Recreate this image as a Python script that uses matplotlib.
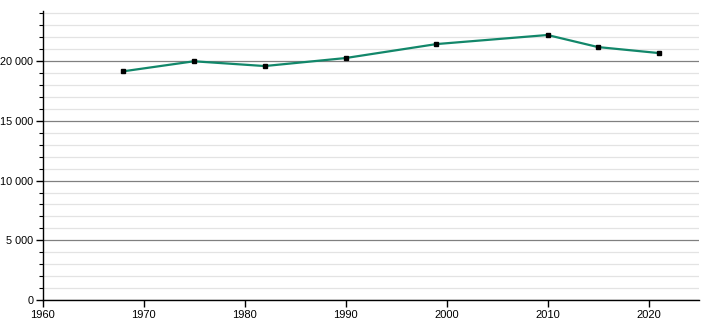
import matplotlib
matplotlib.use("Agg")
import matplotlib.pyplot as plt
from matplotlib.ticker import MultipleLocator, FuncFormatter

plt.rcParams["font.family"] = ["Liberation Sans", "DejaVu Sans"]

# Population by census year
years = [1968, 1975, 1982, 1990, 1999, 2010, 2015, 2021]
population = [19150, 19990, 19590, 20260, 21430, 22190, 21180, 20680]

x_ticks = [1960, 1970, 1980, 1990, 2000, 2010, 2020]

fig = plt.figure(figsize=(7.1, 3.2), dpi=100)
ax = fig.add_axes([42.5 / 710, 20 / 320, (699 - 42.5) / 710, (300 - 11) / 320])

ax.plot(years, population, color="#12876a", linewidth=1.6, zorder=3)
ax.plot(years, population, linestyle="none", marker="s", markersize=3.5,
        color="black", zorder=4)

ax.set_xlim(1960, 2025)
ax.set_ylim(0, 24200)
ax.set_xticks(x_ticks)
ax.yaxis.set_major_locator(MultipleLocator(5000))
ax.yaxis.set_minor_locator(MultipleLocator(1000))
ax.yaxis.set_major_formatter(FuncFormatter(lambda v, p: f"{int(v):,}".replace(",", " ")))

ax.grid(axis="y", which="major", color="#808080", linewidth=0.9, zorder=1)
ax.grid(axis="y", which="minor", color="#e3e3e3", linewidth=0.9, zorder=0)
ax.set_axisbelow(True)

for s in ["top", "right"]:
    ax.spines[s].set_visible(False)
ax.spines["left"].set_linewidth(1.0)
ax.spines["bottom"].set_linewidth(1.0)

ax.tick_params(axis="x", which="major", length=5, width=1, labelsize=8, pad=2)
ax.tick_params(axis="y", which="major", length=5, width=1, labelsize=7.8, pad=1.5)
ax.tick_params(axis="y", which="minor", length=3, width=0.8)

fig.savefig("out.png", dpi=100)
